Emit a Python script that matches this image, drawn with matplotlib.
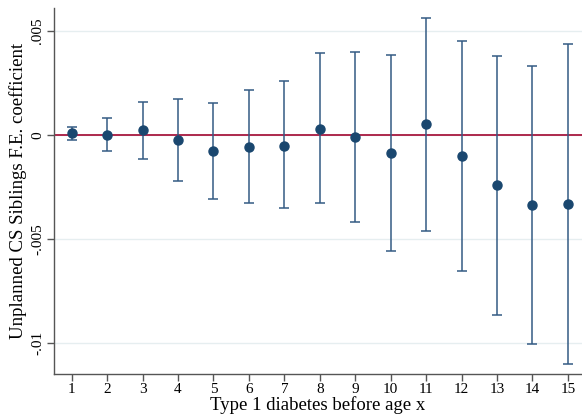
import matplotlib
matplotlib.use('Agg')
import matplotlib.pyplot as plt
import numpy as np

plt.rcParams['font.family'] = ['Liberation Serif', 'DejaVu Serif']

ages = [1, 2, 3, 4, 5, 6, 7, 8, 9, 10, 11, 12, 13, 14, 15]
coef = [0.00008, 0.0, 0.00024, -0.00024, -0.00077, -0.00056, -0.00051, 0.0003,
        -0.0001, -0.00087, 0.00053, -0.001, -0.00242, -0.00337, -0.00332]
ci_hi = [0.0004, 0.0008, 0.0016, 0.00173, 0.00155, 0.00218, 0.0026, 0.00393,
         0.004, 0.00385, 0.00564, 0.00453, 0.00381, 0.0033, 0.00439]
ci_lo = [-0.00024, -0.00075, -0.00114, -0.0022, -0.0031, -0.00328, -0.00352, -0.00328,
         -0.0042, -0.00556, -0.0046, -0.00652, -0.00864, -0.01005, -0.0110]
yticks = [-0.01, -0.005, 0, 0.005]
ytick_labels = ['-.01', '-.005', '0', '.005']

coef = np.array(coef)
ci_hi = np.array(ci_hi)
ci_lo = np.array(ci_lo)

fig = plt.figure(figsize=(5.82, 4.19), dpi=100)
ax = fig.add_axes([0.0928, 0.108, 0.9072, 0.873])

for y in yticks:
    ax.axhline(y, color='#e6eef0', linewidth=1.0, zorder=0)

ax.axhline(0, color='#a8193f', linewidth=1.3, zorder=1)

ax.errorbar(ages, coef, yerr=[coef - ci_lo, ci_hi - coef], fmt='none',
            ecolor='#345b84', elinewidth=1.1, capsize=3.5, capthick=1.1, zorder=2)
ax.plot(ages, coef, 'o', color='#1a476f', markersize=6.5, zorder=3)

ax.set_xlim(0.5, 15.4)
ax.set_ylim(-0.011476, 0.006106)
ax.set_xticks(ages)
ax.set_xticklabels([str(a) for a in ages], fontsize=11)
ax.set_yticks(yticks)
ax.set_yticklabels(ytick_labels, fontsize=11, rotation=90, va='center')

for s in ['top', 'right']:
    ax.spines[s].set_visible(False)
for s in ['left', 'bottom']:
    ax.spines[s].set_color('#555555')
    ax.spines[s].set_linewidth(1.0)
ax.tick_params(axis='both', direction='out', length=5, width=1, color='#555555')
ax.tick_params(axis='x', pad=2)
ax.tick_params(axis='y', pad=2)

ax.set_xlabel('Type 1 diabetes before age x', fontsize=13.5, labelpad=0)
ax.set_ylabel('Unplanned CS Siblings F.E. coefficient', fontsize=13.5, labelpad=3)

fig.savefig('out.png', dpi=100)
plt.close(fig)
